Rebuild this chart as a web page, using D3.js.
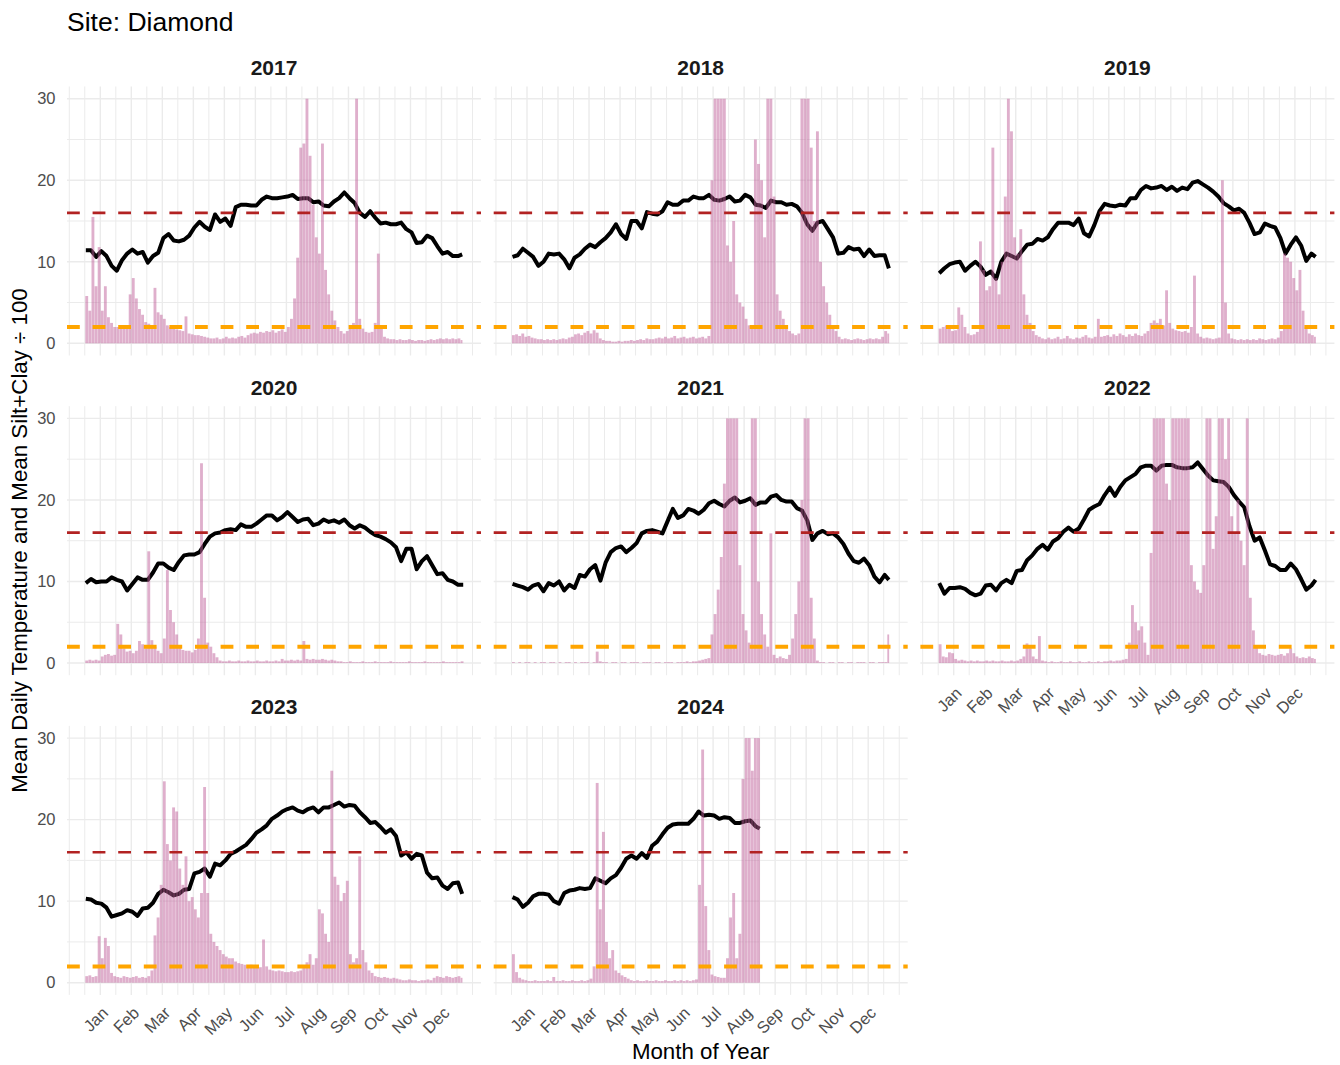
<!DOCTYPE html>
<html>
<head>
<meta charset="utf-8">
<script src="https://cdn.jsdelivr.net/npm/d3@7"></script>
<style>
  body { margin: 0; background: #fff; }
</style>
</head>
<body>
<div class="chart"></div>
<script>
// Facet years and axis labels
const years = [2017, 2018, 2019, 2020, 2021, 2022, 2023, 2024];
const monthLabels = ["Jan", "Feb", "Mar", "Apr", "May", "Jun", "Jul", "Aug", "Sep", "Oct", "Nov", "Dec"];
const monthBreakDays = [15, 45, 75, 105, 135, 165, 195, 225, 255, 285, 315, 345];
const yTicks = [0, 10, 20, 30];
const redLineValue = 16;
const orangeLineValue = 2;

// Last day of record in each year
const lastDay = [365, 365, 365, 366, 365, 365, 365, 240];

// Mean daily temperature, read every 5 days (day 1, 6, 11, ...), last value = last day
const temp2017 = [11.4, 11.4, 10.6, 11.3, 10.7, 9.5, 8.9, 10.2, 11.0, 11.5,
  11.0, 11.2, 9.9, 10.7, 11.1, 12.9, 13.4, 12.6, 12.5, 12.7,
  13.2, 14.2, 14.9, 14.3, 13.9, 15.8, 14.9, 15.3, 14.4, 16.7,
  17.0, 17.0, 16.9, 16.9, 17.6, 18.0, 17.8, 17.8, 17.9, 18.0,
  18.2, 17.7, 17.8, 17.8, 17.3, 17.4, 16.9, 16.8, 17.4, 17.8,
  18.5, 17.8, 17.2, 16.0, 15.5, 16.2, 15.4, 14.7, 14.8, 14.6,
  14.6, 14.8, 14.0, 13.6, 12.3, 12.4, 13.2, 12.9, 11.9, 11.0,
  11.2, 10.7, 10.7, 10.9];
const temp2018 = [10.6, 10.8, 11.6, 11.1, 10.6, 9.5, 10.0, 11.0, 10.9, 11.0,
  10.3, 9.2, 10.5, 10.9, 11.6, 12.1, 11.8, 12.4, 12.9, 13.6,
  14.6, 13.4, 12.8, 15.0, 15.0, 14.1, 16.1, 15.9, 15.8, 16.2,
  17.3, 17.0, 17.0, 17.5, 17.5, 18.0, 17.8, 17.8, 18.2, 17.6,
  17.5, 17.7, 18.0, 17.4, 17.5, 18.2, 17.9, 17.0, 16.9, 16.6,
  17.5, 17.3, 17.3, 17.0, 17.1, 16.8, 16.0, 14.6, 13.8, 14.8,
  15.0, 14.0, 13.0, 11.0, 11.1, 11.8, 11.5, 11.6, 10.7, 11.5,
  10.7, 10.8, 10.8, 9.2];
const temp2019 = [8.6, 9.2, 9.7, 9.9, 10.0, 8.9, 9.5, 10.0, 9.4, 8.4,
  8.8, 7.9, 10.0, 11.0, 10.7, 10.4, 11.3, 12.1, 12.2, 12.8,
  12.6, 13.0, 14.0, 14.8, 14.8, 14.8, 14.5, 15.3, 13.5, 13.1,
  14.5, 16.2, 17.1, 16.9, 16.8, 17.0, 16.9, 17.8, 17.8, 18.8,
  19.3, 19.0, 19.1, 19.3, 18.8, 19.2, 18.7, 19.1, 18.9, 19.7,
  19.9, 19.5, 19.1, 18.6, 18.0, 17.2, 16.8, 16.3, 16.5, 16.0,
  14.8, 13.4, 13.6, 14.7, 14.4, 14.2, 12.9, 11.0, 12.1, 13.0,
  12.0, 10.1, 11.0, 10.6];
const temp2020 = [9.8, 10.3, 9.9, 10.0, 10.0, 10.5, 10.2, 10.0, 8.9, 9.7,
  10.5, 10.2, 10.2, 11.1, 12.2, 12.2, 11.7, 11.4, 12.4, 13.2,
  13.3, 13.3, 13.6, 14.6, 15.5, 15.9, 16.0, 16.3, 16.4, 16.3,
  17.0, 16.7, 16.7, 17.1, 17.6, 18.1, 18.1, 17.5, 17.9, 18.5,
  17.9, 17.3, 17.6, 17.7, 16.9, 17.1, 17.6, 17.3, 17.5, 17.2,
  17.6, 16.9, 16.5, 16.9, 16.6, 16.1, 15.7, 15.5, 15.2, 14.8,
  14.2, 12.5, 14.0, 14.0, 11.5, 12.5, 13.1, 12.0, 10.9, 11.0,
  10.2, 10.0, 9.6, 9.6];
const temp2021 = [9.7, 9.5, 9.3, 9.0, 9.5, 9.7, 8.8, 9.8, 9.5, 10.0,
  8.9, 9.6, 9.2, 10.8, 10.6, 11.5, 12.0, 10.1, 12.3, 13.6,
  14.1, 14.3, 13.6, 14.1, 14.7, 15.9, 16.2, 16.3, 16.1, 15.9,
  17.4, 18.9, 17.8, 18.1, 18.9, 18.7, 18.3, 18.8, 19.6, 19.9,
  19.5, 19.2, 19.9, 20.3, 19.7, 19.9, 20.2, 19.4, 19.7, 19.7,
  20.4, 20.6, 20.0, 19.8, 19.8, 19.0, 18.7, 17.5, 15.1, 15.9,
  16.2, 15.8, 15.9, 15.4, 14.6, 13.4, 12.5, 12.3, 12.8, 12.0,
  10.6, 9.9, 10.8, 10.2];
const temp2022 = [9.8, 8.5, 9.2, 9.2, 9.3, 9.1, 8.6, 8.3, 8.5, 9.5,
  9.6, 8.9, 9.8, 10.2, 9.8, 11.3, 11.4, 12.6, 13.2, 14.0,
  14.5, 13.9, 14.9, 15.3, 16.1, 16.6, 16.1, 16.5, 17.6, 18.8,
  19.2, 19.5, 20.6, 21.5, 20.5, 21.6, 22.4, 22.8, 23.2, 24.0,
  24.2, 24.2, 23.6, 24.2, 24.3, 24.3, 24.0, 23.9, 23.9, 24.0,
  24.6, 23.8, 23.0, 22.4, 22.3, 22.2, 21.6, 20.6, 19.8, 19.1,
  16.8, 15.0, 15.4, 13.8, 12.1, 11.9, 11.4, 11.4, 12.2, 11.5,
  10.3, 9.0, 9.5, 10.2];
const temp2023 = [10.3, 10.2, 9.8, 9.7, 9.2, 8.1, 8.3, 8.5, 8.9, 8.7,
  8.2, 9.1, 9.2, 9.8, 10.9, 11.4, 11.1, 10.7, 10.9, 11.4,
  11.5, 13.4, 13.6, 14.0, 13.0, 14.6, 14.4, 15.0, 15.8, 16.1,
  16.5, 16.9, 17.6, 18.4, 18.8, 19.3, 20.1, 20.5, 21.0, 21.3,
  21.5, 21.1, 20.9, 21.3, 21.5, 20.9, 21.5, 21.5, 21.8, 22.1,
  21.6, 21.8, 21.7, 20.9, 20.3, 19.6, 19.7, 19.1, 18.4, 18.8,
  18.0, 15.6, 16.0, 15.2, 15.8, 15.6, 13.5, 12.8, 12.9, 11.9,
  11.5, 12.2, 12.3, 10.9];
const temp2024 = [10.5, 10.2, 9.3, 9.8, 10.6, 10.9, 10.9, 10.8, 10.0, 9.7,
  11.0, 11.3, 11.4, 11.6, 11.5, 11.6, 12.8, 12.5, 12.2, 12.8,
  13.2, 14.1, 15.2, 15.6, 15.2, 15.9, 15.3, 16.8, 17.3, 18.2,
  19.0, 19.4, 19.5, 19.5, 19.5, 20.1, 21.0, 20.5, 20.6, 20.5,
  20.1, 20.3, 20.2, 19.6, 19.6, 19.8, 19.9, 19.2, 18.9];

// Mean silt+clay / 100, read in 3-day bins (day 1, 4, 7, ...)
const sed2017 = [5.8, 4.0, 15.5, 7.0, 11.8, 4.0, 7.0, 3.2, 2.5, 2.0,
  2.0, 1.8, 1.8, 2.2, 6.0, 8.0, 5.5, 4.2, 3.5, 2.6,
  2.4, 2.0, 6.8, 3.8, 3.5, 3.0, 2.2, 2.0, 1.8, 1.7,
  1.6, 1.5, 3.3, 1.2, 1.1, 1.0, 1.0, 0.9, 0.8, 0.7,
  0.6, 0.6, 0.7, 0.5, 0.6, 0.8, 0.6, 0.7, 0.6, 0.8,
  0.9, 0.7, 1.0, 1.2, 1.3, 1.2, 1.4, 1.3, 1.5, 1.4,
  1.6, 1.3, 1.5, 1.7, 1.4, 2.0, 3.0, 5.5, 10.5, 24.0,
  24.5, 30.0, 23.0, 17.0, 13.0, 11.0, 24.5, 9.0, 6.0, 4.0,
  2.8, 2.0, 1.5, 1.2, 1.5, 1.8, 2.5, 30.0, 3.0, 1.8,
  1.4, 1.3, 1.4, 2.5, 11.0, 2.0, 0.8, 0.6, 0.5, 0.5,
  0.4, 0.5, 0.4, 0.4, 0.5, 0.4, 0.3, 0.4, 0.4, 0.3,
  0.4, 0.5, 0.4, 0.5, 0.6, 0.5, 0.6, 0.5, 0.6, 0.5,
  0.6, 0.4];
const sed2018 = [1.0, 1.1, 0.9, 1.2, 0.8, 0.9, 0.7, 0.6, 0.5, 0.5,
  0.4, 0.5, 0.4, 0.5, 0.4, 0.5, 0.6, 0.5, 0.7, 0.8,
  1.1, 1.2, 1.0, 1.3, 1.5, 1.2, 1.6, 1.3, 0.6, 0.4,
  0.3, 0.3, 0.2, 0.2, 0.3, 0.2, 0.3, 0.3, 0.4, 0.3,
  0.4, 0.5, 0.4, 0.6, 0.5, 0.5, 0.6, 0.7, 0.6, 0.8,
  0.6, 0.7, 0.9, 0.6, 0.7, 0.8, 0.6, 0.7, 0.8, 0.6,
  0.7, 0.8, 0.6, 0.9, 20.0, 35, 35, 35, 35, 12.0,
  10.0, 15.0, 6.0, 5.0, 4.5, 3.0, 2.2, 1.8, 25.0, 22.0,
  20.0, 13.0, 35, 35, 18.0, 6.0, 4.0, 3.0, 2.0, 1.5,
  1.2, 1.0, 1.2, 35, 35, 30, 24.0, 15.0, 26.0, 10.0,
  7.0, 5.0, 3.5, 2.0, 1.5, 0.8, 0.5, 0.6, 0.5, 0.4,
  0.5, 0.6, 0.5, 0.4, 0.5, 0.6, 0.5, 0.6, 0.5, 0.8,
  1.5, 1.2];
const sed2019 = [1.8, 2.0, 2.2, 1.8, 1.5, 1.6, 4.4, 3.5, 2.0, 1.2,
  1.0, 1.1, 1.4, 12.5, 9.0, 6.5, 7.0, 24.0, 8.0, 6.0,
  10.0, 18.0, 35, 26.0, 13.0, 11.0, 14.0, 6.0, 3.5, 2.5,
  1.5, 1.0, 0.8, 0.6, 0.5, 0.7, 0.5, 0.6, 0.8, 0.5,
  0.6, 0.9, 0.6, 0.5, 0.7, 0.6, 0.8, 1.0, 0.7, 0.6,
  0.8, 3.0, 0.8, 0.9, 1.0, 0.8, 1.1, 0.9, 1.2, 1.0,
  0.8, 1.1, 0.9, 1.2, 1.0, 0.9, 1.2, 1.5, 2.5, 2.8,
  2.5, 3.0, 2.2, 6.5, 2.5, 1.8, 1.6, 1.5, 1.4, 1.5,
  1.3, 2.0, 8.3, 1.2, 0.8, 0.6, 0.7, 0.6, 0.5, 0.6,
  0.7, 20.0, 5.0, 1.2, 0.6, 0.5, 0.4, 0.5, 0.4, 0.5,
  0.4, 0.5, 0.4, 0.6, 0.5, 0.4, 0.5, 0.6, 0.5, 0.7,
  1.5, 11.0, 10.5, 10.0, 8.0, 6.5, 9.0, 4.0, 2.0, 1.2,
  1.0, 0.8];
const sed2020 = [0.3, 0.4, 0.3, 0.4, 0.3, 0.8, 1.0, 1.1, 0.9, 1.0,
  4.8, 3.5, 1.8, 1.4, 1.5, 1.2, 1.5, 2.7, 2.3, 1.8,
  13.7, 2.8, 2.0, 1.5, 1.2, 3.0, 11.4, 6.5, 5.0, 3.5,
  2.0, 1.6, 1.5, 1.5, 1.3, 1.6, 3.0, 24.5, 8.0, 2.5,
  2.0, 1.2, 0.7, 0.3, 0.2, 0.2, 0.3, 0.2, 0.2, 0.3,
  0.2, 0.2, 0.3, 0.2, 0.2, 0.3, 0.2, 0.2, 0.3, 0.2,
  0.2, 0.3, 0.2, 0.5, 0.3, 0.3, 0.4, 0.3, 0.4, 0.3,
  2.7, 0.5, 0.4, 0.5, 0.4, 0.4, 0.5, 0.4, 0.3, 0.4,
  0.3, 0.2, 0.2, 0.1, 0.1, 0.2, 0.1, 0.1, 0.1, 0.2,
  0.1, 0.1, 0.1, 0.2, 0.1, 0.1, 0.1, 0.1, 0.2, 0.1,
  0.1, 0.1, 0.1, 0.1, 0.2, 0.1, 0.1, 0.1, 0.1, 0.2,
  0.1, 0.1, 0.1, 0.1, 0.1, 0.2, 0.1, 0.1, 0.1, 0.1,
  0.1, 0.2];
const sed2021 = [0.1, 0.0, 0.1, 0.0, 0.1, 0.1, 0.0, 0.1, 0.0, 0.1,
  0.1, 0.0, 0.1, 0.1, 0.0, 0.1, 0.0, 0.1, 0.1, 0.0,
  0.1, 0.0, 0.1, 0.1, 0.1, 0.0, 0.1, 1.4, 0.2, 0.1,
  0.1, 0.0, 0.1, 0.1, 0.0, 0.1, 0.1, 0.0, 0.1, 0.1,
  0.1, 0.0, 0.1, 0.1, 0.1, 0.0, 0.1, 0.1, 0.0, 0.1,
  0.1, 0.1, 0.0, 0.1, 0.1, 0.1, 0.2, 0.1, 0.2, 0.2,
  0.3, 0.4, 0.5, 0.6, 3.5, 6.0, 9.0, 13.0, 22.0, 35,
  35, 35, 35, 12.0, 6.0, 4.0, 2.5, 35, 35, 10.0,
  6.0, 3.5, 2.0, 15.9, 1.0, 0.6, 0.8, 0.6, 0.5, 1.0,
  3.0, 6.0, 10.0, 20.0, 35, 35, 8.0, 3.0, 0.3, 0.1,
  0.1, 0.0, 0.1, 0.1, 0.0, 0.1, 0.1, 0.0, 0.1, 0.1,
  0.0, 0.1, 0.1, 0.1, 0.0, 0.1, 0.1, 0.0, 0.1, 0.1,
  0.1, 3.5];
const sed2022 = [2.3, 0.8, 0.7, 1.3, 1.2, 0.5, 0.3, 0.4, 0.3, 0.2,
  0.3, 0.2, 0.3, 0.2, 0.2, 0.3, 0.2, 0.3, 0.2, 0.2,
  0.3, 0.2, 0.2, 0.3, 0.2, 0.3, 0.5, 0.8, 2.4, 1.8,
  0.8, 0.5, 3.3, 0.3, 0.2, 0.1, 0.2, 0.1, 0.1, 0.2,
  0.1, 0.1, 0.2, 0.1, 0.1, 0.2, 0.1, 0.1, 0.2, 0.1,
  0.1, 0.2, 0.1, 0.2, 0.2, 0.3, 0.2, 0.3, 0.3, 0.4,
  0.5, 2.5, 7.1, 5.0, 4.0, 4.5, 2.5, 1.0, 13.5, 35,
  35, 35, 35, 22.0, 20.0, 35, 35, 35, 35, 35,
  35, 12.0, 10.0, 9.0, 8.6, 12.0, 35, 35, 14.0, 18.0,
  35, 35, 25.0, 35, 18.0, 16.0, 20.0, 15.0, 12.0, 35,
  8.0, 4.0, 2.0, 1.2, 1.0, 0.9, 1.1, 1.0, 0.9, 1.0,
  1.1, 0.9, 1.2, 1.8, 1.2, 0.8, 0.6, 0.7, 0.6, 0.8,
  0.6, 0.5];
const sed2023 = [0.8, 0.9, 0.7, 0.8, 5.7, 3.0, 5.5, 4.5, 1.2, 0.8,
  0.7, 0.6, 0.8, 0.7, 0.6, 0.7, 0.8, 0.6, 0.7, 0.6,
  0.8, 1.5, 5.8, 8.0, 12.0, 24.7, 17.0, 15.0, 21.5, 21.0,
  14.0, 12.0, 15.5, 10.0, 10.5, 9.0, 8.0, 11.0, 24.0, 11.0,
  6.0, 5.0, 4.5, 4.0, 3.5, 3.2, 3.0, 3.0, 2.6, 2.4,
  2.3, 2.2, 2.0, 2.2, 2.0, 2.1, 1.9, 5.3, 2.0, 1.6,
  1.5, 1.4, 1.5, 1.4, 1.3, 1.3, 1.4, 1.3, 1.4, 1.5,
  2.0, 2.5, 3.5, 2.2, 3.0, 9.0, 8.5, 6.0, 5.0, 26.0,
  13.0, 12.0, 10.0, 11.0, 12.5, 3.5, 2.5, 3.0, 15.5, 4.0,
  2.5, 1.5, 1.2, 0.8, 0.7, 0.6, 0.7, 0.6, 0.5, 0.6,
  0.5, 0.4, 0.3, 0.3, 0.4, 0.3, 0.3, 0.2, 0.3, 0.3,
  0.4, 0.3, 0.6, 0.8, 0.7, 0.6, 0.8, 0.7, 0.6, 0.7,
  0.8, 0.6];
const sed2024 = [3.5, 1.3, 0.6, 0.4, 0.3, 0.2, 0.2, 0.3, 0.2, 0.2,
  0.2, 0.3, 0.2, 0.7, 0.2, 0.2, 0.3, 0.2, 0.2, 0.3,
  0.2, 0.2, 0.3, 0.2, 0.3, 0.5, 2.0, 24.5, 9.0, 18.5,
  5.0, 3.0, 4.0, 1.5, 1.2, 0.9, 0.7, 0.5, 0.3, 0.2,
  0.3, 0.2, 0.2, 0.3, 0.2, 0.2, 0.3, 0.2, 0.2, 0.3,
  0.2, 0.2, 0.3, 0.2, 0.3, 0.2, 0.3, 0.2, 0.3, 0.4,
  12.0, 28.6, 9.4, 4.0, 1.0, 0.8, 0.7, 0.6, 0.6, 3.0,
  8.0, 11.0, 3.0, 6.0, 25.0, 35, 35, 26.0, 35, 35];

const tempSeries = [temp2017, temp2018, temp2019, temp2020, temp2021, temp2022, temp2023, temp2024];
const sedSeries = [sed2017, sed2018, sed2019, sed2020, sed2021, sed2022, sed2023, sed2024];
const tempStep = 5;
const sedStep = 3;

const font = "'Liberation Sans', Arial, Helvetica, sans-serif";
const width = 1340;
const height = 1065;
const panelW = 414;
const colLeft = [67, 493.7, 920.4];
const rowZero = [343.3, 663.0, 982.7];
const pxPerUnit = 8.153;

const svg = d3
  .select(".chart")
  .append("svg")
  .attr("width", width)
  .attr("height", height)
  .style("font-family", font);

// Title
svg
  .append("text")
  .attr("x", 67)
  .attr("y", 31)
  .attr("font-size", 26.5)
  .attr("fill", "#000")
  .text("Site: Diamond");

years.forEach((year, i) => {
  const col = i % 3;
  const row = Math.floor(i / 3);
  const left = colLeft[col];
  const bottom = rowZero[row] + 1.5 * pxPerUnit;
  const top = rowZero[row] - 31.5 * pxPerUnit;

  const x = d3.scaleLinear().domain([-17.2, 383.2]).range([left, left + panelW]);
  const y = d3.scaleLinear().domain([-1.5, 31.5]).range([bottom, top]);
  const yBar = d3.scaleLinear().domain([0, 30]).range([y(0), y(30)]).clamp(true);

  const g = svg.append("g").attr("class", `panel panel-${year}`);

  // Grid
  const gridDays = d3.range(-15, 376, 15);
  g.selectAll(".vgrid")
    .data(gridDays)
    .join("line")
    .attr("class", "vgrid")
    .attr("x1", (d) => x(d))
    .attr("x2", (d) => x(d))
    .attr("y1", top)
    .attr("y2", bottom)
    .attr("stroke", "#ebebeb")
    .attr("stroke-width", (d) => (monthBreakDays.includes(d) ? 1.4 : 1.0));

  g.selectAll(".hgrid")
    .data(d3.range(0, 31, 5))
    .join("line")
    .attr("class", "hgrid")
    .attr("x1", left)
    .attr("x2", left + panelW)
    .attr("y1", (d) => y(d))
    .attr("y2", (d) => y(d))
    .attr("stroke", "#ebebeb")
    .attr("stroke-width", (d) => (d % 10 === 0 ? 1.4 : 1.0));

  // Temperature line
  const temps = tempSeries[i].map((v, k, arr) => ({
    day: k === arr.length - 1 ? lastDay[i] : 1 + k * tempStep,
    value: v,
  }));
  const line = d3
    .line()
    .x((d) => x(d.day))
    .y((d) => y(d.value));
  g.append("path")
    .datum(temps)
    .attr("d", line)
    .attr("fill", "none")
    .attr("stroke", "#000")
    .attr("stroke-width", 4)
    .attr("stroke-linejoin", "round");

  // Silt+clay bars
  const bins = sedSeries[i].map((v, k) => {
    const d0 = 1 + k * sedStep;
    return { start: d0 - 0.5, end: Math.min(d0 + sedStep - 0.5, lastDay[i] + 0.5), value: v };
  });
  g.selectAll(".bar")
    .data(bins)
    .join("rect")
    .attr("class", "bar")
    .attr("x", (d) => x(d.start))
    .attr("width", (d) => Math.max(0.5, x(d.end) - x(d.start) - 0.25))
    .attr("y", (d) => yBar(d.value))
    .attr("height", (d) => yBar(0) - yBar(d.value))
    .attr("fill", "#c0609a")
    .attr("fill-opacity", 0.5);

  // Reference lines
  g.append("line")
    .attr("x1", left)
    .attr("x2", left + panelW)
    .attr("y1", y(redLineValue))
    .attr("y2", y(redLineValue))
    .attr("stroke", "#b22222")
    .attr("stroke-width", 2.7)
    .attr("stroke-dasharray", "12.8,12.8");
  g.append("line")
    .attr("x1", left)
    .attr("x2", left + panelW)
    .attr("y1", y(orangeLineValue))
    .attr("y2", y(orangeLineValue))
    .attr("stroke", "#ffa500")
    .attr("stroke-width", 4)
    .attr("stroke-dasharray", "12.8,12.8");

  // Strip label
  g.append("text")
    .attr("x", left + panelW / 2)
    .attr("y", top - 11.5)
    .attr("text-anchor", "middle")
    .attr("font-size", 21)
    .attr("font-weight", "bold")
    .attr("fill", "#1a1a1a")
    .text(year);

  // Y axis labels on the first column
  if (col === 0) {
    const yAxis = g
      .append("g")
      .attr("transform", `translate(${left},0)`)
      .call(d3.axisLeft(y).tickValues(yTicks).tickSize(0).tickPadding(11.5));
    yAxis.select(".domain").remove();
    yAxis
      .attr("font-family", font)
      .attr("font-size", 16.5)
      .attr("color", "#4d4d4d");
  }

  // X axis labels under the last panel of each column
  if (i + 3 >= years.length) {
    const xAxis = g
      .append("g")
      .attr("transform", `translate(0,${bottom})`)
      .call(
        d3
          .axisBottom(x)
          .tickValues(monthBreakDays)
          .tickFormat((d, k) => monthLabels[k])
          .tickSize(0)
      );
    xAxis.select(".domain").remove();
    xAxis
      .attr("font-family", font)
      .attr("font-size", 16.5)
      .attr("color", "#4d4d4d");
    xAxis
      .selectAll("text")
      .attr("y", 0)
      .attr("dy", null)
      .attr("transform", "translate(8.5,19) rotate(-45)")
      .style("text-anchor", "end");
  }
});

// Axis titles
svg
  .append("text")
  .attr("x", 700.7)
  .attr("y", 1059)
  .attr("text-anchor", "middle")
  .attr("font-size", 22.3)
  .attr("fill", "#000")
  .text("Month of Year");

svg
  .append("text")
  .attr("transform", "translate(27,540.5) rotate(-90)")
  .attr("text-anchor", "middle")
  .attr("font-size", 22.3)
  .attr("fill", "#000")
  .text("Mean Daily Temperature and Mean Silt+Clay ÷ 100");
</script>
</body>
</html>
